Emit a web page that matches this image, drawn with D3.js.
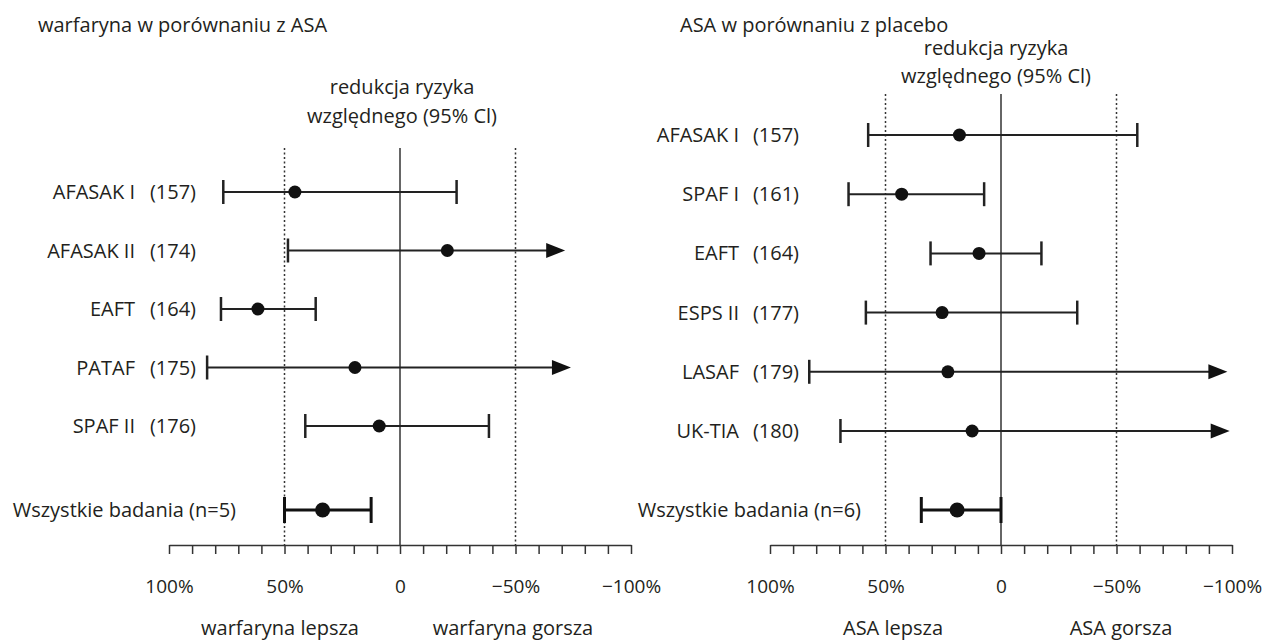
<!DOCTYPE html>
<html>
<head>
<meta charset="utf-8">
<script src="https://cdn.jsdelivr.net/npm/d3@7"></script>
<style>
  body { margin: 0; background: #fff; }
  text { font-family: "Open Sans", "Noto Sans", sans-serif; fill: #231f20; }
  .lbl { font-size: 20px; font-weight: 500; }
  .tick-lbl { font-size: 19px; }
  .axis path, .axis line { stroke: #333; stroke-width: 1.5; }
</style>
</head>
<body>
<div id="chart"></div>
<script>
// --- data ---
// warfaryna vs ASA
const leftTitle = "warfaryna w porównaniu z ASA";
const leftStudies = ["AFASAK I", "AFASAK II", "EAFT", "PATAF", "SPAF II"];
const leftRefs = ["(157)", "(174)", "(164)", "(175)", "(176)"];
const leftPoint = [45.5, -20.5, 61.5, 19.5, 9];
const leftLow = [76.5, 48.5, 77.5, 83.5, 41];
const leftHigh = [-24.5, -71.5, 36.5, -74, -38.5];
const leftArrow = [false, true, false, true, false];
const leftPooledLabel = "Wszystkie badania (n=5)";
const leftPooled = [50, 33.5, 12.5]; // low, point, high
const leftBetter = "warfaryna lepsza";
const leftWorse = "warfaryna gorsza";

// ASA vs placebo
const rightTitle = "ASA w porównaniu z placebo";
const rightStudies = ["AFASAK I", "SPAF I", "EAFT", "ESPS II", "LASAF", "UK-TIA"];
const rightRefs = ["(157)", "(161)", "(164)", "(177)", "(179)", "(180)"];
const rightPoint = [18, 43, 9.5, 25.5, 23, 12.5];
const rightLow = [57.5, 66, 30.5, 58.5, 83, 69.5];
const rightHigh = [-59, 7.3, -17.5, -33, -98, -99];
const rightArrow = [false, false, false, false, true, true];
const rightPooledLabel = "Wszystkie badania (n=6)";
const rightPooled = [34.5, 19, 0];
const rightBetter = "ASA lepsza";
const rightWorse = "ASA gorsza";

const axisTitle = ["redukcja ryzyka", "względnego (95% Cl)"];
const tickValues = [100, 50, 0, -50, -100];
const tickLabels = ["100%", "50%", "0", "\u221250%", "\u2212100%"];

const W = 1262, H = 641;
const svg = d3.select("#chart").append("svg")
  .attr("width", W).attr("height", H);

function drawPanel(p) {
  const g = svg.append("g");
  const x = d3.scaleLinear().domain([100, -100]).range(p.xRange);
  const y = d3.scalePoint().domain(p.studies).range(p.yRange);
  const axisY = 545, pooledY = 510;

  // title + axis title
  g.append("text").attr("class", "lbl")
    .attr("x", p.titleX).attr("y", 25).attr("dy", "0.35em")
    .text(p.title);
  p.headY.forEach((hy, i) => {
    g.append("text").attr("class", "lbl")
      .attr("x", x(0) + p.headDx).attr("y", hy).attr("dy", "0.35em")
      .attr("text-anchor", "middle")
      .text(axisTitle[i]);
  });

  // reference lines
  g.append("line")
    .attr("x1", x(0)).attr("x2", x(0))
    .attr("y1", p.lineTop).attr("y2", axisY)
    .attr("stroke", "#333").attr("stroke-width", 1.5);
  [50, -50].forEach(v => {
    g.append("line")
      .attr("x1", x(v)).attr("x2", x(v))
      .attr("y1", p.lineTop).attr("y2", axisY)
      .attr("stroke", "#333").attr("stroke-width", 1.5)
      .attr("stroke-dasharray", "2,2.5");
  });

  // axis with minor ticks
  g.append("g").attr("class", "axis")
    .attr("transform", "translate(0," + axisY + ")")
    .call(d3.axisBottom(x).tickValues(d3.range(-100, 101, 10))
      .tickSize(9).tickSizeOuter(0).tickFormat(""));
  const lab = g.append("g")
    .attr("transform", "translate(0," + axisY + ")")
    .call(d3.axisBottom(x).tickValues(tickValues).tickSize(0).tickPadding(35)
      .tickFormat((d, i) => tickLabels[i]));
  lab.select(".domain").remove();
  lab.selectAll("text").attr("class", "tick-lbl")
    .attr("font-family", null).attr("font-size", null).attr("fill", null);

  // bottom labels
  g.append("text").attr("class", "lbl").attr("text-anchor", "middle")
    .attr("x", p.betterX).attr("y", 628).attr("dy", "0.35em").text(p.better);
  g.append("text").attr("class", "lbl").attr("text-anchor", "middle")
    .attr("x", p.worseX).attr("y", 628).attr("dy", "0.35em").text(p.worse);

  // study rows
  p.studies.forEach((s, i) => {
    const yy = y(s);
    g.append("text").attr("class", "lbl").attr("text-anchor", "end")
      .attr("x", p.nameX).attr("y", yy).attr("dy", "0.35em").text(s);
    g.append("text").attr("class", "lbl").attr("text-anchor", "end")
      .attr("x", p.refX).attr("y", yy).attr("dy", "0.35em").text(p.refs[i]);

    const xl = x(p.low[i]), xh = x(p.high[i]);
    const lineEnd = p.arrow[i] ? xh - 17 : xh;
    g.append("line").attr("x1", xl).attr("x2", lineEnd)
      .attr("y1", yy).attr("y2", yy)
      .attr("stroke", "#222").attr("stroke-width", 2);
    g.append("line").attr("x1", xl).attr("x2", xl)
      .attr("y1", yy - 12).attr("y2", yy + 12)
      .attr("stroke", "#222").attr("stroke-width", 2.5);
    if (p.arrow[i]) {
      g.append("path")
        .attr("d", `M${xh},${yy} L${xh - 19},${yy - 7.5} L${xh - 19},${yy + 7.5} Z`)
        .attr("fill", "#111");
    } else {
      g.append("line").attr("x1", xh).attr("x2", xh)
        .attr("y1", yy - 12).attr("y2", yy + 12)
        .attr("stroke", "#222").attr("stroke-width", 2.5);
    }
    g.append("circle").attr("cx", x(p.point[i])).attr("cy", yy)
      .attr("r", 6.5).attr("fill", "#111");
  });

  // pooled row
  const [pl, pp, ph] = p.pooled;
  g.append("text").attr("class", "lbl").attr("text-anchor", "end")
    .attr("x", p.pooledX).attr("y", pooledY).attr("dy", "0.35em")
    .text(p.pooledLabel);
  g.append("line").attr("x1", x(pl)).attr("x2", x(ph))
    .attr("y1", pooledY).attr("y2", pooledY)
    .attr("stroke", "#111").attr("stroke-width", 3);
  [pl, ph].forEach(v => {
    g.append("line").attr("x1", x(v)).attr("x2", x(v))
      .attr("y1", pooledY - 13).attr("y2", pooledY + 13)
      .attr("stroke", "#111").attr("stroke-width", 3);
  });
  g.append("circle").attr("cx", x(pp)).attr("cy", pooledY)
    .attr("r", 7.5).attr("fill", "#111");
}

drawPanel({
  title: leftTitle, titleX: 38, headY: [87, 116], headDx: 2, lineTop: 148,
  xRange: [169, 631], yRange: [192, 426],
  studies: leftStudies, refs: leftRefs, point: leftPoint, low: leftLow,
  high: leftHigh, arrow: leftArrow, nameX: 135, refX: 196,
  pooled: leftPooled, pooledLabel: leftPooledLabel, pooledX: 236,
  better: leftBetter, worse: leftWorse, betterX: 280, worseX: 513
});

drawPanel({
  title: rightTitle, titleX: 680, headY: [48, 76], headDx: -5, lineTop: 94,
  xRange: [770, 1232], yRange: [135, 431],
  studies: rightStudies, refs: rightRefs, point: rightPoint, low: rightLow,
  high: rightHigh, arrow: rightArrow, nameX: 739, refX: 799,
  pooled: rightPooled, pooledLabel: rightPooledLabel, pooledX: 861,
  better: rightBetter, worse: rightWorse, betterX: 893, worseX: 1121
});
</script>
</body>
</html>
